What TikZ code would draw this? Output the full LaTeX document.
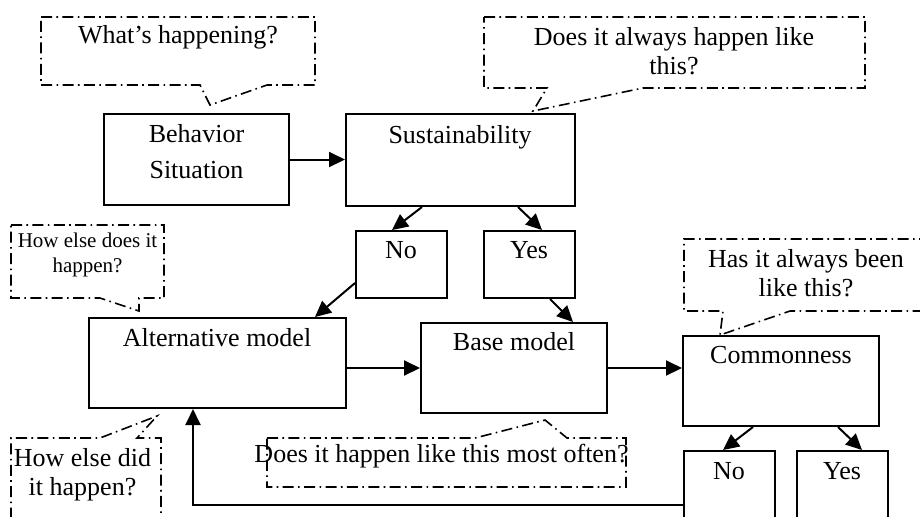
\documentclass[tikz,border=0pt]{standalone}
\usepackage{fontspec}
\setmainfont{Liberation Serif}
\usetikzlibrary{arrows.meta,fit}
\tikzset{
  box/.style={draw,line width=1pt,inner sep=0pt},
  arr/.style={line width=1pt,-{Triangle[length=8pt,width=7.5pt]}},
  callout/.style={line width=0.8pt,dash pattern=on 5.5pt off 2.2pt on 0.8pt off 2.2pt},
  big/.style={font=\fontsize{13}{18}\selectfont,inner sep=0pt,anchor=base,align=center},
  cbig/.style={font=\fontsize{13}{14.5}\selectfont,inner sep=0pt,anchor=base,align=center},
  csmall/.style={font=\fontsize{10.5}{12.7}\selectfont,inner sep=0pt,anchor=base,align=center},
}
\begin{document}
\begin{tikzpicture}[x=0.5pt,y=-0.5pt]
\clip (0,0) rectangle (920,516);
% boxes
\node[box,fit={(104,114)(289,205)}] (bs) {};
\node[box,fit={(346,114)(575,206)}] (sus) {};
\node[box,fit={(356,231)(447,298)}] (no1) {};
\node[box,fit={(484,231)(575,298)}] (yes1) {};
\node[box,fit={(89,318)(346,408)}] (alt) {};
\node[box,fit={(421,323)(607,413)}] (base) {};
\node[box,fit={(683,336)(879,426)}] (comm) {};
\node[box,fit={(684,451)(775,540)}] (no2) {};
\node[box,fit={(797,451)(888,540)}] (yes2) {};
% box texts (base = baseline of last line)
\node[big] (tbs) at (196.5,178) {Behavior\\Situation};
\node[big] (tsus) at (460,143) {Sustainability};
\node[big] (tno1) at (401,258) {No};
\node[big] (tyes1) at (529,258) {Yes};
\node[big] (talt) at (217,346) {Alternative model};
\node[big] (tbase) at (514,350.7) {Base model};
\node[big] (tcomm) at (781,363) {Commonness};
\node[big] (tno2) at (729,479) {No};
\node[big] (tyes2) at (842,479) {Yes};
% callouts
\draw[callout] (41,17) -- (315,17) -- (315,85) -- (267,85) -- (210,105) -- (200,85) -- (41,85) -- cycle;
\node[cbig] (c1) at (178,43) {What’s happening?};
\draw[callout] (484,17) -- (865,17) -- (865,88) -- (643,88) -- (533,111) -- (547,88) -- (484,88) -- cycle;
\node[cbig] (c2) at (674,74) {Does it always happen like\\this?};
\draw[callout] (11,225) -- (164,225) -- (164,298) -- (139,298) -- (139,311) -- (100,298) -- (11,298) -- cycle;
\node[csmall] (c3) at (87.5,272.7) {How else does it\\happen?};
\draw[callout] (11,540) -- (11,438) -- (100,438) -- (157,416) -- (137,438) -- (161,438) -- (161,540);
\node[cbig] (c4) at (82.5,495) {How else did\\it happen?};
\draw[callout] (267,438) -- (475,438) -- (545,420) -- (567,438) -- (626,438) -- (626,487) -- (267,487) -- cycle;
\node[cbig] (c5) at (441.5,462.7) {Does it happen like this most often?};
\draw[callout] (930,239) -- (684,239) -- (684,311) -- (723,311) -- (720,335) -- (790,311) -- (930,311);
\node[cbig] (c6) at (806,296) {Has it always been\\like this?};
% connectors
\draw[arr] (bs.east) -- (bs.east -| sus.west);
\draw[arr] (422,0 |- sus.south) -- (392,0 |- no1.north);
\draw[arr] (518,0 |- sus.south) -- (542,0 |- yes1.north);
\draw[arr] (no1.west |- 0,283) -- (315,0 |- alt.north);
\draw[arr] (550,0 |- yes1.south) -- (573,0 |- base.north);
\draw[arr] (alt.east |- base.west) -- (base.west);
\draw[arr] (base.east) -- (base.east -| comm.west);
\draw[arr] (753,0 |- comm.south) -- (723,0 |- no2.north);
\draw[arr] (838,0 |- comm.south) -- (862,0 |- yes2.north);
\draw[arr] (no2.west |- 0,505) -| (193,0 |- alt.south);
\end{tikzpicture}
\end{document}
